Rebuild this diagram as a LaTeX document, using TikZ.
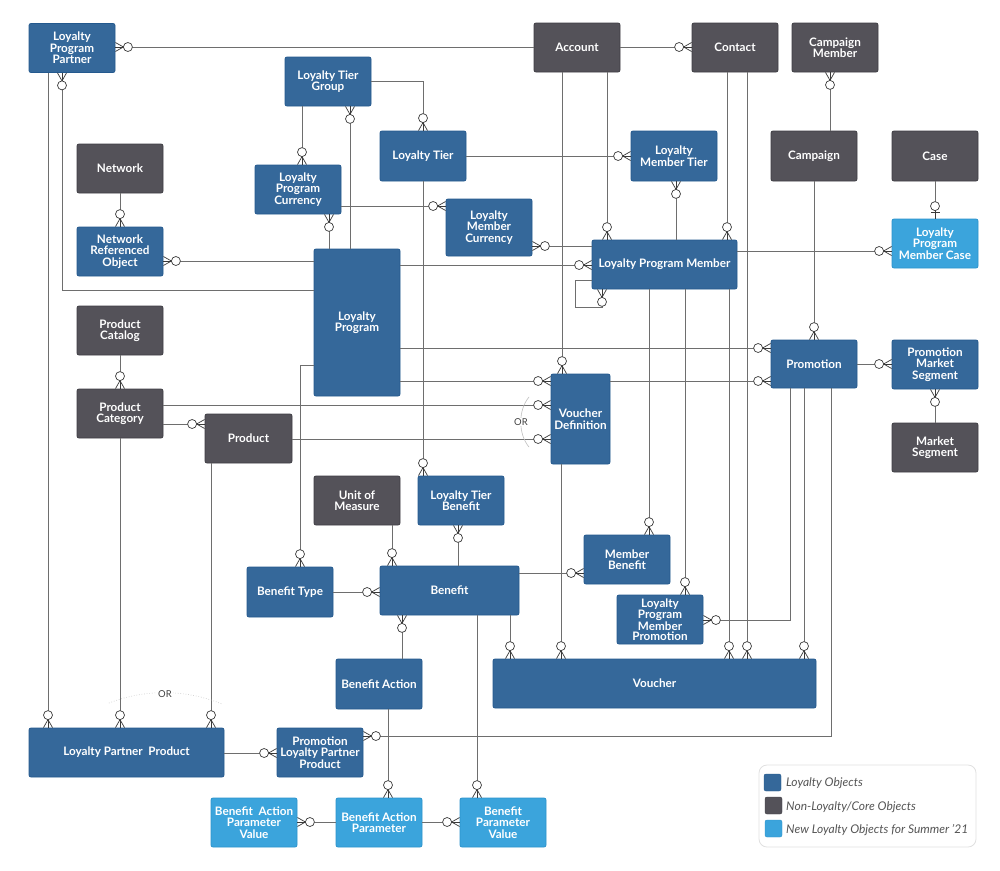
\documentclass[tikz,border=0pt]{standalone}
\usepackage{fontspec}
\setmainfont{Lato}
\definecolor{loy}{HTML}{35689A}
\definecolor{loyd}{HTML}{24598E}
\definecolor{core}{HTML}{545259}
\definecolor{cored}{HTML}{3F3E44}
\definecolor{newl}{HTML}{3BA4DC}
\definecolor{newld}{HTML}{2C93CC}
\definecolor{lineg}{HTML}{6E6E6E}
\definecolor{crowc}{HTML}{3A3A3A}
\definecolor{legt}{HTML}{555555}
\tikzset{
  ent/.style={rectangle, rounded corners=2pt, inner sep=0pt, align=center, text=white,
    font=\bfseries\fontsize{11.7}{11.5}\selectfont, line width=0.8pt,
    minimum width=86pt, minimum height=49pt},
  lo/.style={ent, fill=loy, draw=loyd},
  co/.style={ent, fill=core, draw=cored},
  nw/.style={ent, fill=newl, draw=newld},
  cl/.style={draw=lineg, line width=0.8pt},
  crow/.style={draw=crowc, line width=0.7pt},
  orarc/.style={draw=black!25, line width=0.6pt},
  ortext/.style={font=\fontsize{9.5}{9.5}\selectfont, text=black!75, fill=white, inner sep=1pt},
  legtext/.style={anchor=west, font=\itshape\fontsize{12}{12}\selectfont, text=legt, inner sep=0pt},
  pics/zm/.style={code={
    \draw[crow] (0,4.5) -- (8,0) -- (0,-4.5);
    \draw[crow] (0,0) -- (8,0);
    \draw[crow,fill=white] (12.5,0) circle[radius=4.5pt];
  }},
  pics/zo/.style={code={
    \draw[crow] (6,4.5) -- (6,-4.5);
    \draw[crow] (0,0) -- (8,0);
    \draw[crow,fill=white] (12.5,0) circle[radius=4.5pt];
  }},
}
\begin{document}
\begin{tikzpicture}[x=1pt,y=-1pt]
\useasboundingbox (0,0) rectangle (1000,870);
\fill[white] (0,0) rectangle (1000,870);

% ---------------- entities ----------------
\node[lo] (lpp) at (72,48) {Loyalty\\Program\\Partner};
\node[co] (acc) at (577,47.5) {Account};
\node[co] (con) at (735,47.5) {Contact};
\node[co] (cm) at (835,47.5) {Campaign\\Member};
\node[lo] (ltg) at (328,81.5) {Loyalty Tier\\Group};
\node[lo, minimum height=50pt] (lt) at (423,156) {Loyalty Tier};
\node[lo, minimum height=50pt] (lmt) at (674,156) {Loyalty\\Member Tier};
\node[co, minimum height=50pt] (camp) at (814,156) {Campaign};
\node[co, minimum height=50pt] (case) at (935,156) {Case};
\node[co] (net) at (120,168.5) {Network};
\node[lo] (lpc) at (298,189.5) {Loyalty\\Program\\Currency};
\node[lo, minimum height=57pt] (lmc) at (489,227.5) {Loyalty\\Member\\Currency};
\node[lo] (nro) at (120,251.5) {Network\\Referenced\\Object};
\node[lo, minimum width=145pt] (lpm) at (664.5,264.5) {Loyalty Program Member};
\node[nw] (lpmc) at (935,243.5) {Loyalty\\Program\\Member Case};
\node[lo, minimum height=147pt] (lp) at (357,322.5) {Loyalty\\Program};
\node[co] (pcat) at (120,330.5) {Product\\Catalog};
\node[co] (pcg) at (120,413.5) {Product\\Category};
\node[co, minimum width=87pt] (prod) at (248.5,438.5) {Product};
\node[lo, minimum width=59pt, minimum height=90pt] (vd) at (580.5,419) {Voucher\\Definition};
\node[lo, minimum height=48pt] (promo) at (814,364) {Promotion};
\node[lo] (pms) at (935,364.5) {Promotion\\Market\\Segment};
\node[co] (ms) at (935,447.5) {Market\\Segment};
\node[co] (uom) at (357,500.5) {Unit of\\Measure};
\node[lo] (ltb) at (461,500.5) {Loyalty Tier\\Benefit};
\node[lo] (mb) at (627,559.5) {Member\\Benefit};
\node[lo, minimum height=50pt] (bt) at (290,592) {Benefit Type};
\node[lo, minimum width=139pt] (ben) at (449.5,590.5) {Benefit};
\node[lo, font=\bfseries\fontsize{11.7}{10}\selectfont] (lpmp) at (660,619.5) {Loyalty\\Program\\Member\\Promotion};
\node[lo, minimum height=50pt] (ba) at (379,684) {Benefit Action};
\node[lo, minimum width=323pt] (vou) at (654.5,683.5) {Voucher};
\node[lo, minimum width=195pt] (lpprod) at (126.5,752.5) {Loyalty Partner\ \ Product};
\node[lo] (plpp) at (320,752.5) {Promotion\\Loyalty Partner\\Product};
\node[nw] (bapv) at (254,822.5) {Benefit\ \ Action\\Parameter\\Value};
\node[nw] (bap) at (379,822.5) {Benefit Action\\Parameter};
\node[nw] (bpv) at (503,822.5) {Benefit\\Parameter\\Value};

% ---------------- connectors ----------------
\draw[cl] (lpp.east|-0,47) -- (acc.west|-0,47);
\draw[cl] (acc.east|-0,47) -- (con.west|-0,47);
\draw[cl] (lpp.south-|62,0) |- (lp.west|-0,290);
\draw[cl] (lpp.south-|48,0) -- (lpprod.north-|48,0);
\draw[cl] (ltg.south-|302,0) -- (lpc.north-|302,0);
\draw[cl] (lp.north-|350,0) -- (ltg.south-|350,0);
\draw[cl] (ltg.east|-0,81) -| (lt.north-|423,0);
\draw[cl] (lt.east|-0,156) -- (lmt.west|-0,156);
\draw[cl] (lt.south-|423,0) -- (ltb.north-|423,0);
\draw[cl] (lpc.east|-0,206) -- (lmc.west|-0,206);
\draw[cl] (lpc.south-|329,0) -- (lp.north-|329,0);
\draw[cl] (net.south) -- (nro.north);
\draw[cl] (nro.east|-0,261) -- (lp.west|-0,261);
\draw[cl] (lmc.east|-0,246) -- (lpm.west|-0,246);
\draw[cl] (lp.east|-0,265) -- (lpm.west|-0,265);
\draw[cl] (lmt.south-|676,0) -- (lpm.north-|676,0);
\draw[cl] (acc.south-|562,0) -- (vd.north-|562,0);
\draw[cl] (acc.south-|607,0) -- (lpm.north-|607,0);
\draw[cl] (con.south-|727,0) -- (lpm.north-|727,0);
\draw[cl] (con.south-|747,0) -- (vou.north-|747,0);
\draw[cl] (lpm.south-|649,0) -- (mb.north-|649,0);
\draw[cl] (lpm.south-|685,0) -- (lpmp.north-|685,0);
\draw[cl] (lpm.south-|729,0) -- (vou.north-|729,0);
\draw[cl] (lpm.west|-0,280) -- (575,280) |- (602,307) -- (lpm.south-|602,0);
\draw[cl] (cm.south-|830,0) -- (camp.north-|830,0);
\draw[cl] (camp.south) -- (promo.north);
\draw[cl] (case.south) -- (lpmc.north);
\draw[cl] (lpm.east|-0,251) -- (lpmc.west|-0,251);
\draw[cl] (lp.east|-0,348) -- (promo.west|-0,348);
\draw[cl] (lp.east|-0,381) -- (vd.west|-0,381);
\draw[cl] (vd.east|-0,381) -- (promo.west|-0,381);
\draw[cl] (promo.east|-0,364) -- (pms.west|-0,364);
\draw[cl] (pms.south) -- (ms.north);
\draw[cl] (pcat.south) -- (pcg.north);
\draw[cl] (pcg.east|-0,405) -- (vd.west|-0,405);
\draw[cl] (pcg.east|-0,424) -- (prod.west|-0,424);
\draw[cl] (prod.east|-0,439) -- (vd.west|-0,439);
\draw[cl] (pcg.south) -- (lpprod.north-|120,0);
\draw[cl] (prod.south-|211,0) -- (lpprod.north-|211,0);
\draw[cl] (lp.west|-0,365) -| (bt.north-|300,0);
\draw[cl] (uom.south-|392,0) -- (ben.north-|392,0);
\draw[cl] (ltb.south-|458,0) -- (ben.north-|458,0);
\draw[cl] (bt.east|-0,592) -- (ben.west|-0,592);
\draw[cl] (ben.east|-0,573) -- (mb.west|-0,573);
\draw[cl] (ben.south-|402,0) -- (ba.north-|402,0);
\draw[cl] (ben.south-|477,0) -- (bpv.north-|477,0);
\draw[cl] (ben.south-|510,0) -- (vou.north-|510,0);
\draw[cl] (vd.south-|561,0) -- (vou.north-|561,0);
\draw[cl] (promo.south-|790,0) |- (lpmp.east|-0,620);
\draw[cl] (promo.south-|804,0) -- (vou.north-|804,0);
\draw[cl] (promo.south-|831,0) |- (plpp.east|-0,736);
\draw[cl] (lpprod.east|-0,753) -- (plpp.west|-0,753);
\draw[cl] (ba.south-|388,0) -- (bap.north-|388,0);
\draw[cl] (bapv.east|-0,822) -- (bap.west|-0,822);
\draw[cl] (bap.east|-0,822) -- (bpv.west|-0,822);

% ---------------- OR arcs ----------------
\draw[orarc] (529,397) .. controls (518,410) and (518,434) .. (529,447);
\node[ortext] (or1) at (521,422) {OR};
\draw[orarc, dotted] (109,703) .. controls (145,689) and (185,689) .. (222,704);
\node[ortext] (or2) at (165,694) {OR};

% ---------------- cardinality ends ----------------
\pic[rotate=0] at (lpp.east|-0,47) {zm};
\pic[rotate=180] at (con.west|-0,47) {zm};
\pic[rotate=-90] at (lpp.south-|62,0) {zm};
\pic[rotate=90] at (lpprod.north-|48,0) {zm};
\pic[rotate=90] at (lpc.north-|302,0) {zm};
\pic[rotate=-90] at (ltg.south-|350,0) {zm};
\pic[rotate=90] at (lt.north-|423,0) {zm};
\pic[rotate=180] at (lmt.west|-0,156) {zm};
\pic[rotate=90] at (ltb.north-|423,0) {zm};
\pic[rotate=180] at (lmc.west|-0,206) {zm};
\pic[rotate=-90] at (lpc.south-|329,0) {zm};
\pic[rotate=90] at (nro.north) {zm};
\pic[rotate=0] at (nro.east|-0,261) {zm};
\pic[rotate=0] at (lmc.east|-0,246) {zm};
\pic[rotate=180] at (lpm.west|-0,265) {zm};
\pic[rotate=-90] at (lmt.south-|676,0) {zm};
\pic[rotate=90] at (vd.north-|562,0) {zm};
\pic[rotate=90] at (lpm.north-|607,0) {zm};
\pic[rotate=90] at (lpm.north-|727,0) {zm};
\pic[rotate=90] at (vou.north-|747,0) {zm};
\pic[rotate=90] at (mb.north-|649,0) {zm};
\pic[rotate=90] at (lpmp.north-|685,0) {zm};
\pic[rotate=90] at (vou.north-|729,0) {zm};
\pic[rotate=-90] at (lpm.south-|602,0) {zm};
\pic[rotate=-90] at (cm.south-|830,0) {zm};
\pic[rotate=90] at (promo.north) {zm};
\pic[rotate=90] at (lpmc.north) {zo};
\pic[rotate=180] at (lpmc.west|-0,251) {zm};
\pic[rotate=180] at (promo.west|-0,348) {zm};
\pic[rotate=180] at (vd.west|-0,381) {zm};
\pic[rotate=180] at (promo.west|-0,381) {zm};
\pic[rotate=180] at (pms.west|-0,364) {zm};
\pic[rotate=-90] at (pms.south) {zm};
\pic[rotate=90] at (pcg.north) {zm};
\pic[rotate=180] at (vd.west|-0,405) {zm};
\pic[rotate=180] at (prod.west|-0,424) {zm};
\pic[rotate=180] at (vd.west|-0,439) {zm};
\pic[rotate=90] at (lpprod.north-|120,0) {zm};
\pic[rotate=90] at (lpprod.north-|211,0) {zm};
\pic[rotate=90] at (bt.north-|300,0) {zm};
\pic[rotate=90] at (ben.north-|392,0) {zm};
\pic[rotate=-90] at (ltb.south-|458,0) {zm};
\pic[rotate=180] at (ben.west|-0,592) {zm};
\pic[rotate=180] at (mb.west|-0,573) {zm};
\pic[rotate=-90] at (ben.south-|402,0) {zm};
\pic[rotate=90] at (bpv.north-|477,0) {zm};
\pic[rotate=90] at (vou.north-|510,0) {zm};
\pic[rotate=90] at (vou.north-|561,0) {zm};
\pic[rotate=0] at (lpmp.east|-0,620) {zm};
\pic[rotate=90] at (vou.north-|804,0) {zm};
\pic[rotate=0] at (plpp.east|-0,736) {zm};
\pic[rotate=180] at (plpp.west|-0,753) {zm};
\pic[rotate=90] at (bap.north-|388,0) {zm};
\pic[rotate=0] at (bapv.east|-0,822) {zm};
\pic[rotate=180] at (bpv.west|-0,822) {zm};

% ---------------- legend ----------------
\draw[draw=black!12, line width=0.8pt, rounded corners=8pt, fill=white] (759,765) rectangle (976,847);
\draw[fill=loy, draw=loyd, rounded corners=2pt] (764,774) rectangle (781,791);
\draw[fill=core, draw=cored, rounded corners=2pt] (765,797) rectangle (782,814);
\draw[fill=newl, draw=newld, rounded corners=2pt] (765,820) rectangle (782,837);
\node[legtext] (l1) at (786,783) {Loyalty Objects};
\node[legtext] (l2) at (786,807) {Non-Loyalty/Core Objects};
\node[legtext] (l3) at (786,830) {New Loyalty Objects for Summer '21};
\end{tikzpicture}
\end{document}
